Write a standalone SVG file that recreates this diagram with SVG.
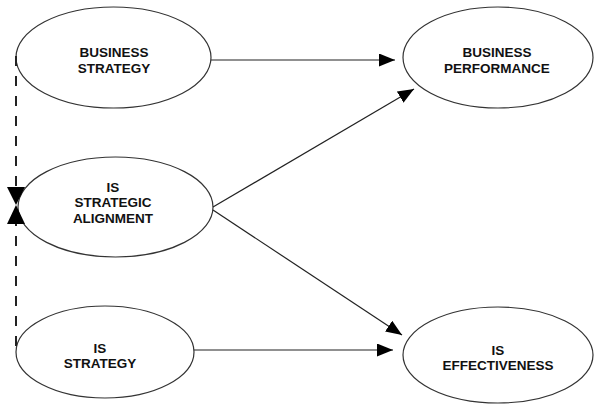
<svg xmlns="http://www.w3.org/2000/svg" width="594" height="404" viewBox="0 0 594 404">
<defs>
<style>
.node ellipse{fill:#fff;stroke:#333;stroke-width:1.2}
.node text{font-family:"Liberation Sans",Arial,sans-serif;font-weight:bold;font-size:13.5px;fill:#111;text-anchor:middle}
.conn line{stroke:#222;stroke-width:1.2;fill:none}
.conn line.dash{stroke:#222;stroke-width:2;stroke-dasharray:10 10}
.head{fill:#000;stroke:none}
</style>
<marker id="ah" viewBox="0 0 16 13" refX="16" refY="6.5" markerWidth="16" markerHeight="13" markerUnits="userSpaceOnUse" orient="auto">
<path d="M0,0 L16,6.5 L0,13 Z" fill="#000"/>
</marker>
</defs>
<rect width="594" height="404" fill="#fff"/>
<g id="n-business-strategy" class="node">
<ellipse cx="113.5" cy="57.5" rx="97.5" ry="50.5"/>
<text x="114" y="57">BUSINESS</text>
<text x="114" y="73">STRATEGY</text>
</g>
<g id="n-business-performance" class="node">
<ellipse cx="498" cy="57.5" rx="95" ry="50.5"/>
<text x="497" y="57">BUSINESS</text>
<text x="497" y="73">PERFORMANCE</text>
</g>
<g id="n-is-strategic-alignment" class="node">
<ellipse cx="115.5" cy="207" rx="97.5" ry="50"/>
<text x="113" y="192">IS</text>
<text x="113" y="207">STRATEGIC</text>
<text x="113" y="223">ALIGNMENT</text>
</g>
<g id="n-is-strategy" class="node">
<ellipse cx="105" cy="352" rx="89" ry="46"/>
<text x="100" y="353">IS</text>
<text x="100" y="368">STRATEGY</text>
</g>
<g id="n-is-effectiveness" class="node">
<ellipse cx="498" cy="355" rx="95" ry="48"/>
<text x="498" y="355">IS</text>
<text x="498" y="370">EFFECTIVENESS</text>
</g>
<g id="connectors" class="conn">
<line x1="211" y1="60" x2="395" y2="60" marker-end="url(#ah)"/>
<line x1="194" y1="350" x2="393" y2="350" marker-end="url(#ah)"/>
<line x1="213" y1="207" x2="414" y2="89" marker-end="url(#ah)"/>
<line x1="213" y1="210" x2="402" y2="335" marker-end="url(#ah)"/>
<line class="dash" x1="16" y1="56" x2="16" y2="190"/>
<line class="dash" x1="16" y1="346" x2="16" y2="222"/>
<path class="head" d="M7,187 L25,187 L16,205 Z"/>
<path class="head" d="M7,224 L25,224 L16,205 Z"/>
</g>
</svg>
